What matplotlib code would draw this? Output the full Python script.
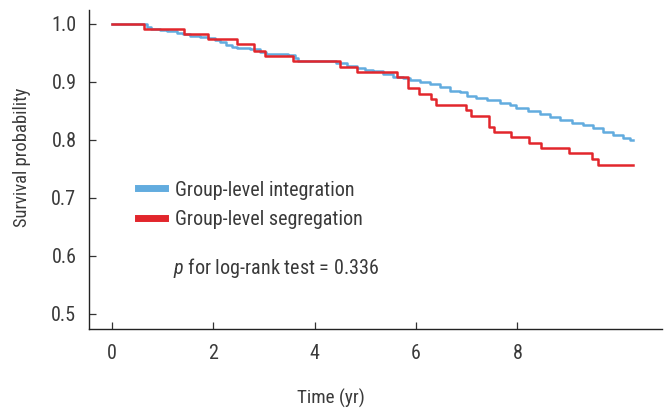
import matplotlib
matplotlib.use("Agg")
import matplotlib.pyplot as plt
from matplotlib import font_manager

installed = {f.name for f in font_manager.fontManager.ttflist}
candidates = ["Liberation Sans Narrow", "Roboto Condensed", "Open Sans Condensed", "Roboto"]
main_font = next((c for c in candidates if c in installed), "DejaVu Sans")
narrow = main_font != "Roboto"
plt.rcParams["font.family"] = [main_font, "DejaVu Sans"]
plt.rcParams["mathtext.fontset"] = "custom"
plt.rcParams["mathtext.it"] = f"{main_font}:italic"
plt.rcParams["mathtext.rm"] = main_font

# Group-level integration (blue) KM steps
integ_t = [0.0, 0.70, 0.78, 0.95, 1.08, 1.28, 1.41, 1.54, 1.74, 1.89, 2.03, 2.13, 2.26,
           2.37, 2.47, 2.72, 2.92, 3.05, 3.47, 3.61, 3.67, 4.43, 4.63, 4.83, 4.99, 5.15,
           5.35, 5.55, 5.75, 5.88, 6.07, 6.27, 6.47, 6.67, 6.86, 7.00, 7.19, 7.39, 7.65,
           7.85, 7.98, 8.20, 8.44, 8.64, 8.84, 9.07, 9.30, 9.49, 9.69, 9.89, 10.08, 10.22,
           10.28]
integ_s = [1.000, 0.995, 0.991, 0.989, 0.987, 0.984, 0.982, 0.980, 0.978, 0.975, 0.972,
           0.968, 0.964, 0.961, 0.958, 0.956, 0.952, 0.948, 0.946, 0.941, 0.936, 0.932,
           0.928, 0.924, 0.921, 0.918, 0.913, 0.909, 0.906, 0.903, 0.900, 0.897, 0.891,
           0.885, 0.882, 0.876, 0.872, 0.868, 0.864, 0.860, 0.855, 0.850, 0.845, 0.840,
           0.834, 0.830, 0.826, 0.820, 0.814, 0.809, 0.804, 0.800, 0.800]

# Group-level segregation (red) KM steps
segr_t = [0.0, 0.63, 1.42, 1.89, 2.46, 2.80, 3.02, 3.57, 4.50, 4.84, 5.63, 5.85, 6.06,
          6.30, 6.40, 6.98, 7.09, 7.44, 7.54, 7.88, 8.23, 8.46, 9.02, 9.48, 9.59, 10.28]
segr_s = [1.000, 0.991, 0.983, 0.974, 0.966, 0.954, 0.945, 0.936, 0.926, 0.917, 0.908,
          0.890, 0.880, 0.871, 0.860, 0.851, 0.841, 0.823, 0.814, 0.805, 0.795, 0.786,
          0.777, 0.767, 0.757, 0.757]

xticks = [0, 2, 4, 6, 8]
yticks = [0.5, 0.6, 0.7, 0.8, 0.9, 1.0]
labels = ["Group-level integration", "Group-level segregation"]

fs_tick = 14.5 if narrow else 13.5
fs_leg = 14.5 if narrow else 12.8
fs_lab = 13 if narrow else 12.5

fig = plt.figure(figsize=(6.7, 4.09), dpi=100)
ax = fig.add_axes([0.1328, 0.1956, 0.988 - 0.1328, 0.9756 - 0.1956])

blue = "#62acdf"
red = "#e2262c"
ax.step(integ_t, integ_s, where="post", color=blue, lw=1.8, label=labels[0])
ax.step(segr_t, segr_s, where="post", color=red, lw=1.8, label=labels[1])

ax.set_xlim(-0.45, 10.85)
ax.set_ylim(0.474, 1.024)
ax.set_xticks(xticks)
ax.set_xticklabels([str(v) for v in xticks])
ax.set_yticks(yticks)
ax.set_yticklabels([f"{v:.1f}" for v in yticks])

for s in ["top", "right"]:
    ax.spines[s].set_visible(False)
for s in ["left", "bottom"]:
    ax.spines[s].set_color("#222222")
    ax.spines[s].set_linewidth(1.0)

ax.tick_params(axis="both", direction="in", length=5, width=0.9, color="#333333",
               labelsize=fs_tick, labelcolor="#3a3a3a")
ax.tick_params(axis="y", pad=9)
ax.tick_params(axis="x", pad=11)

ax.set_xlabel("Time (yr)", fontsize=fs_lab + 0.8, color="#3a3a3a")
ax.set_ylabel("Survival probability", fontsize=fs_lab + 0.3, color="#3a3a3a")
ax.xaxis.set_label_coords(0.422, -0.188)
ax.yaxis.set_label_coords(-0.117, 0.5376)
ax.yaxis.label.set_va("center")

leg = ax.legend(loc="center left", bbox_to_anchor=(0.086, 0.39), frameon=False,
                fontsize=fs_leg, handlelength=1.35, handletextpad=0.45,
                labelspacing=0.5, borderaxespad=0, borderpad=0)
for h in leg.get_lines():
    h.set_linewidth(5)
for t in leg.get_texts():
    t.set_color("#3a3a3a")

ax.text(0.1466, 0.19, r"$p$ for log-rank test = 0.336", transform=ax.transAxes,
        fontsize=fs_leg, color="#3a3a3a", ha="left", va="center")

fig.savefig("out.png", dpi=100)
